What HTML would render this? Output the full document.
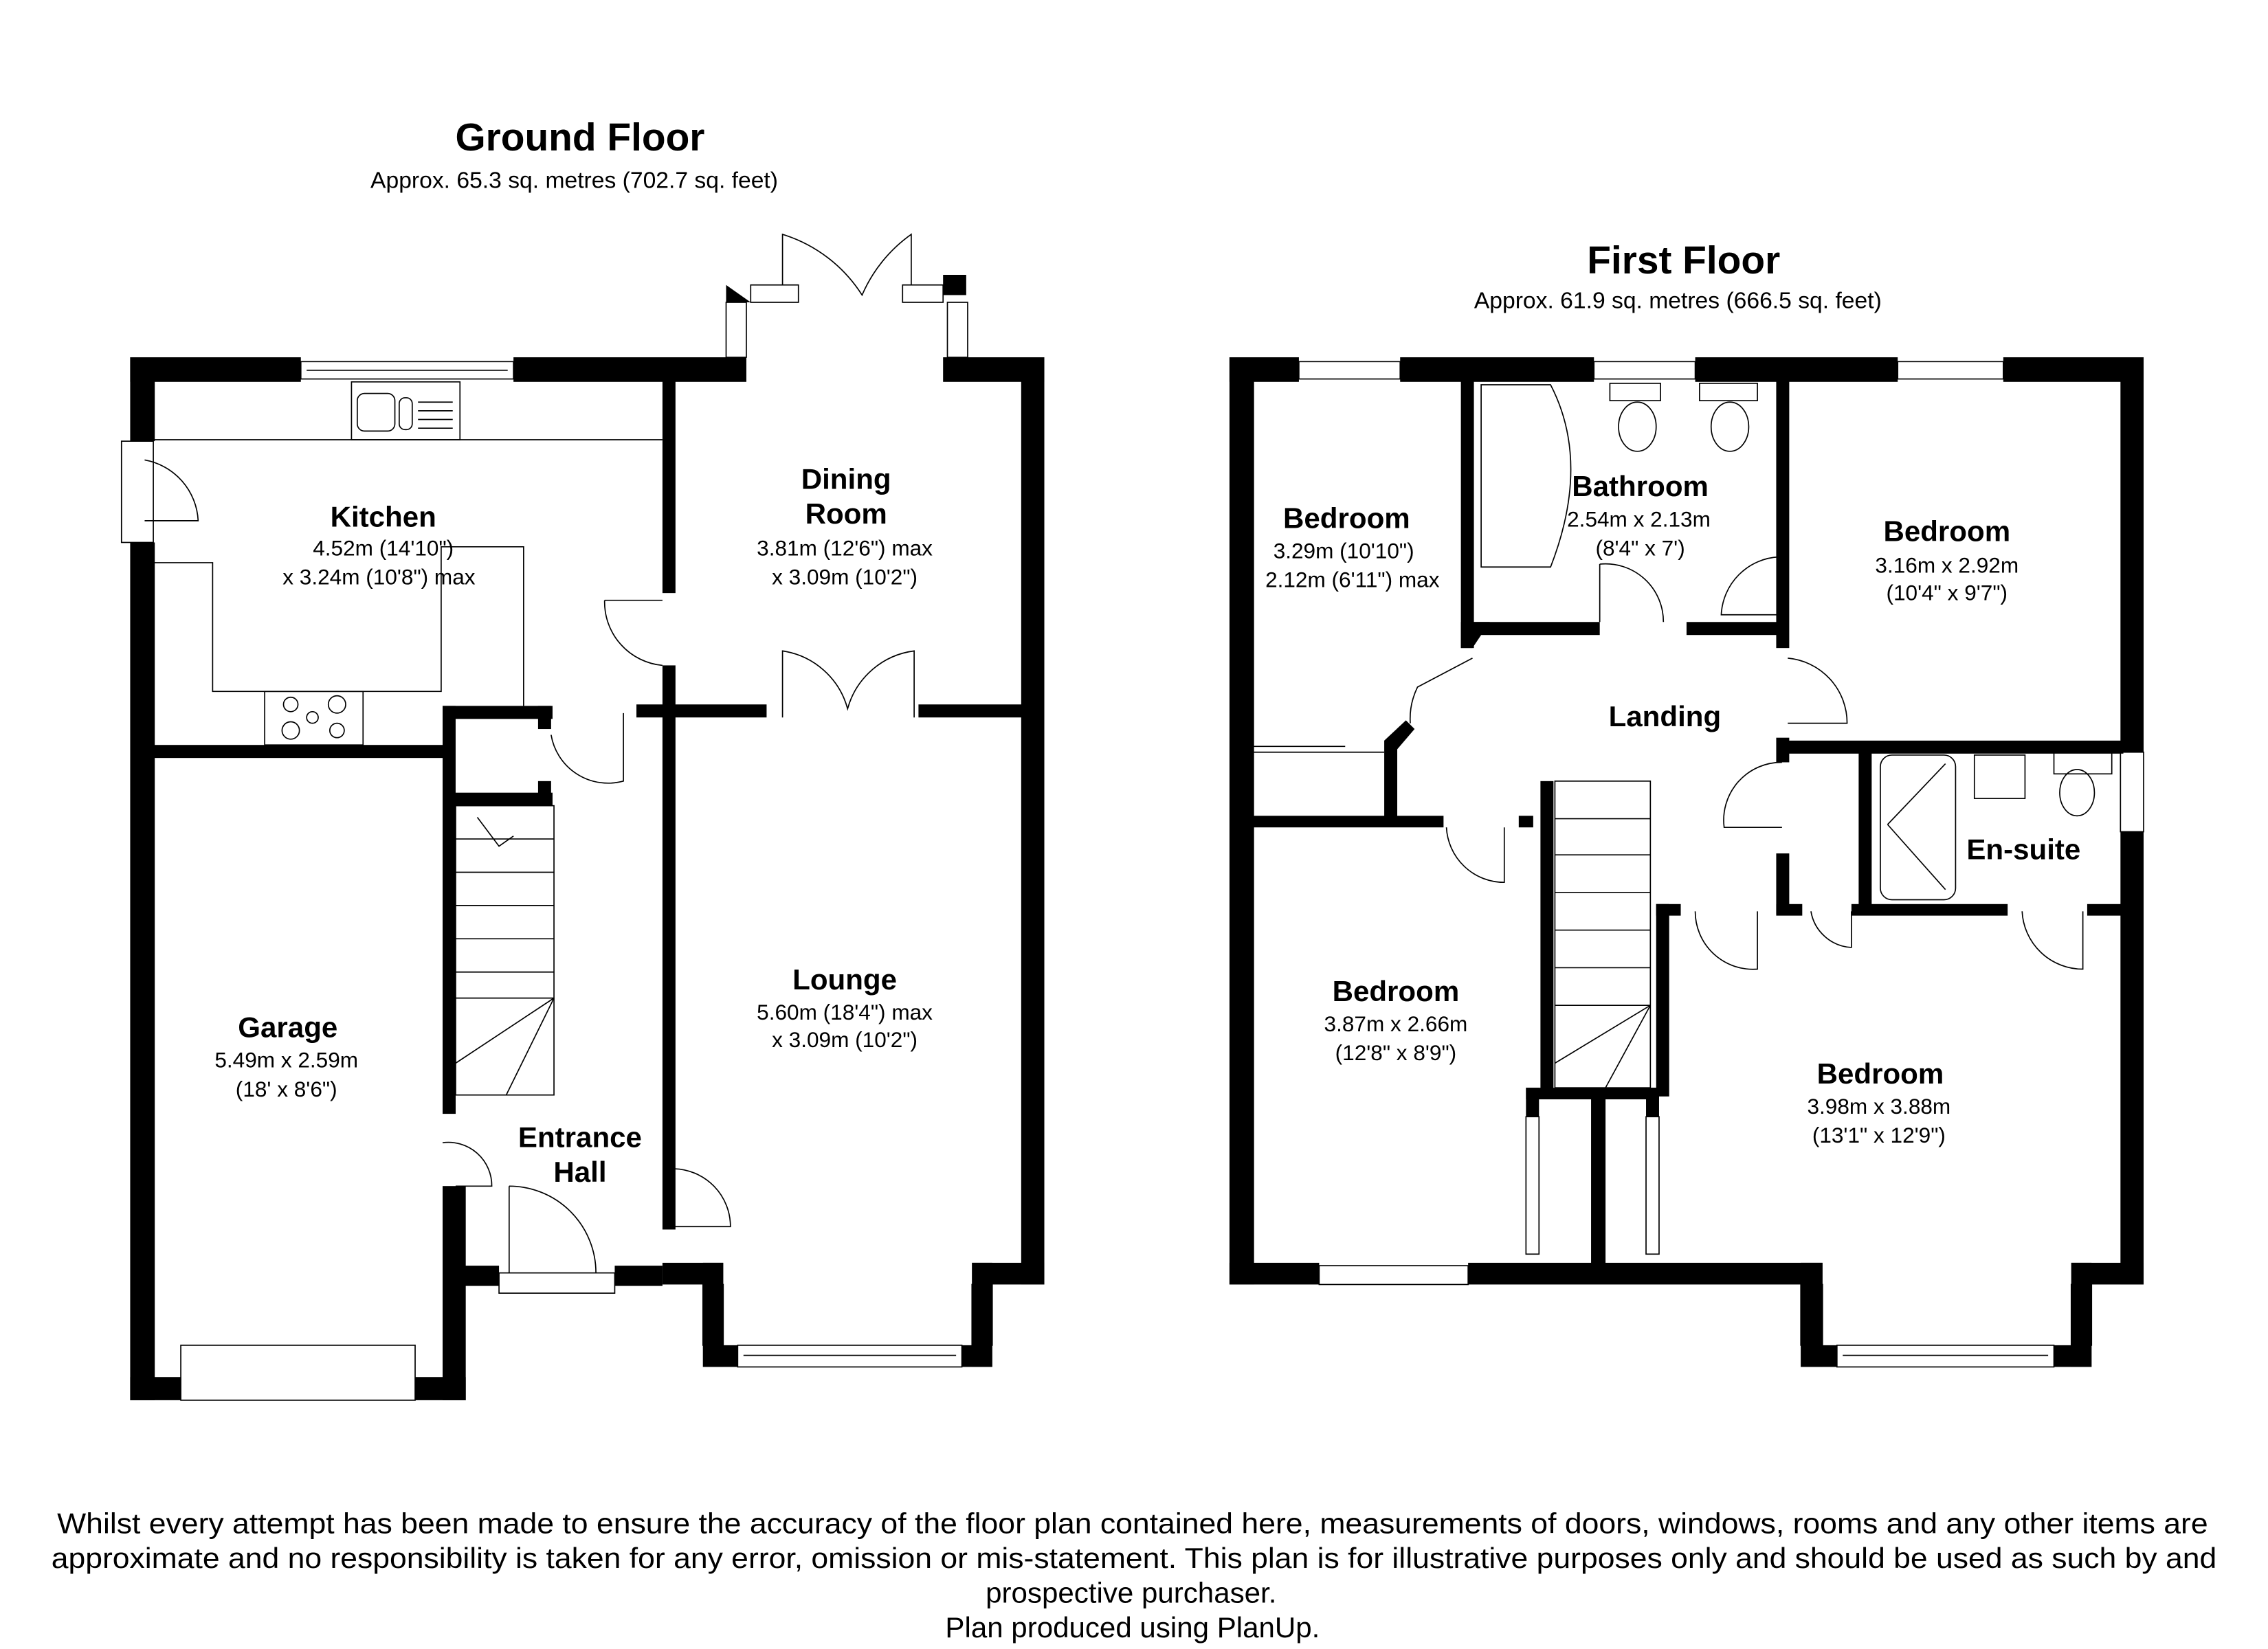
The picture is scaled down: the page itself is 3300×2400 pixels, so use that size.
<!DOCTYPE html>
<html><head><meta charset="utf-8"><style>
html,body{margin:0;padding:0;background:#fff;width:3300px;height:2400px;overflow:hidden}
svg{display:block}
text{font-family:"Liberation Sans",Arial,sans-serif;fill:#000}
.t{font-weight:bold;font-size:20px}
.s{font-size:15px}
</style></head><body>
<svg width="3300" height="2400" viewBox="0 0 1568 1140" preserveAspectRatio="none" xmlns="http://www.w3.org/2000/svg">
<rect width="1568" height="1140" fill="#fff"/>
<text x="401" y="104" text-anchor="middle" font-size="27" font-weight="bold">Ground Floor</text>
<text x="397" y="130" text-anchor="middle" font-size="16">Approx. 65.3 sq. metres (702.7 sq. feet)</text>
<text x="1164" y="189" text-anchor="middle" font-size="27" font-weight="bold">First Floor</text>
<text x="1160" y="213" text-anchor="middle" font-size="16">Approx. 61.9 sq. metres (666.5 sq. feet)</text>

<g fill="#000">
<rect x="90" y="247" width="118" height="17"/>
<rect x="355" y="247" width="161" height="17"/>
<rect x="90" y="247" width="17" height="58"/>
<rect x="90" y="375" width="17" height="593"/>
<rect x="90" y="952" width="35" height="16"/>
<rect x="287" y="952" width="35" height="16"/>
<rect x="306" y="820" width="16" height="148"/>
<rect x="106" y="515" width="200" height="9"/>
<rect x="306" y="488" width="9" height="282"/>
<rect x="306" y="488" width="76" height="9"/>
<rect x="372" y="488" width="9" height="16"/>
<rect x="306" y="548" width="76" height="9"/>
<rect x="372" y="540" width="9" height="17"/>
<rect x="458" y="263" width="9" height="147"/>
<rect x="458" y="460" width="9" height="390"/>
<rect x="440" y="487" width="90" height="9"/>
<rect x="635" y="487" width="72" height="9"/>
<rect x="652" y="247" width="70" height="17"/>
<rect x="706" y="247" width="16" height="641"/>
<rect x="672" y="873" width="50" height="15"/>
<rect x="672" y="873" width="14" height="72"/>
<rect x="486" y="930" width="24" height="15"/>
<rect x="665" y="930" width="21" height="15"/>
<rect x="458" y="873" width="42" height="15"/>
<rect x="486" y="873" width="14" height="72"/>
<rect x="314" y="875" width="31" height="14"/>
<rect x="425" y="875" width="33" height="14"/>
<rect x="306" y="755" width="9" height="15"/>
<rect x="306" y="820" width="9" height="55"/>
<rect x="652" y="190" width="16" height="14"/>
<polygon points="502,197 502,209 519,209"/>

<rect x="850" y="247" width="48" height="17"/>
<rect x="968" y="247" width="134" height="17"/>
<rect x="1172" y="247" width="140" height="17"/>
<rect x="1385" y="247" width="97" height="17"/>
<rect x="850" y="247" width="17" height="641"/>
<rect x="1466" y="247" width="16" height="273"/>
<rect x="1466" y="575" width="16" height="313"/>
<rect x="850" y="873" width="62" height="15"/>
<rect x="1015" y="873" width="245" height="15"/>
<rect x="1245" y="873" width="15" height="72"/>
<rect x="1245" y="930" width="25" height="15"/>
<rect x="1420" y="930" width="26" height="15"/>
<rect x="1432" y="873" width="14" height="72"/>
<rect x="1432" y="873" width="50" height="15"/>
<rect x="1010" y="263" width="9" height="185"/>
<polygon points="1010,430 1030,430 1018,448 1010,448"/>
<rect x="1018" y="430" width="88" height="9"/>
<rect x="1166" y="430" width="70" height="9"/>
<rect x="1228" y="263" width="9" height="185"/>
<rect x="1236" y="512" width="232" height="9"/>
<rect x="1228" y="510" width="9" height="17"/>
<rect x="1285" y="520" width="9" height="112"/>
<rect x="1228" y="590" width="9" height="42"/>
<rect x="1228" y="625" width="18" height="8"/>
<rect x="1280" y="625" width="108" height="8"/>
<rect x="1443" y="625" width="25" height="8"/>
<rect x="1145" y="625" width="17" height="8"/>
<rect x="1145" y="625" width="9" height="133"/>
<rect x="866" y="564" width="132" height="8"/>
<rect x="1050" y="564" width="10" height="8"/>
<rect x="957" y="512" width="9" height="56"/>
<polygon points="957,512 972,498 978,504 966,518"/>
<rect x="1065" y="540" width="9" height="220"/>
<rect x="1055" y="752" width="92" height="8"/>
<rect x="1055" y="752" width="9" height="20"/>
<rect x="1138" y="752" width="9" height="20"/>
<rect x="1100" y="752" width="10" height="123"/>
</g>

<g fill="none" stroke="#000" stroke-width="0.8">
<rect x="208" y="250" width="147" height="12"/><line x1="212" y1="256" x2="351" y2="256"/>
<rect x="125" y="930" width="162" height="38"/>
<rect x="510" y="930" width="155" height="15"/><line x1="514" y1="937" x2="661" y2="937"/>
<rect x="486" y="888" width="14" height="42"/><rect x="672" y="888" width="14" height="42"/>
<rect x="345" y="880" width="80" height="14"/>
<rect x="502" y="209" width="14" height="38"/><rect x="655" y="209" width="14" height="38"/>
<rect x="519" y="197" width="33" height="12"/><rect x="624" y="197" width="28" height="12"/>
<path d="M541 197 V162 A100 100 0 0 1 596 204 A100 100 0 0 1 630 162 V197"/>
<path d="M541 496 V450 A55 55 0 0 1 586 490 A55 55 0 0 1 632 450 V496"/>
<rect x="84" y="305" width="22" height="70"/>
<path d="M100 318 A45 45 0 0 1 137 360 H100"/>
<line x1="106" y1="304" x2="458" y2="304"/>
<rect x="243" y="264" width="75" height="40"/>
<rect x="247" y="272" width="26" height="26" rx="5"/><rect x="276" y="275" width="9" height="22" rx="4"/>
<line x1="289" y1="278" x2="313" y2="278"/><line x1="289" y1="284" x2="313" y2="284"/><line x1="289" y1="290" x2="313" y2="290"/><line x1="289" y1="296" x2="313" y2="296"/>
<polyline points="106,389 147,389 147,478 305,478 305,378 362,378 362,488"/>
<rect x="183" y="478" width="68" height="37"/>
<circle cx="201" cy="487" r="5"/><circle cx="233" cy="487" r="6"/><circle cx="201" cy="505" r="6"/><circle cx="233" cy="505" r="5"/><circle cx="216" cy="496" r="4"/>
<path d="M418 415 A44 44 0 0 0 458 460"/><line x1="418" y1="415" x2="458" y2="415"/>
<path d="M381 508 A40 40 0 0 0 431 540 V493"/>
<path d="M306 790 A30 30 0 0 1 340 820 H315"/>
<path d="M466 808 A40 40 0 0 1 505 848 H466"/>
<path d="M352 820 V880 M352 820 A60 60 0 0 1 412 880"/>
<rect x="315" y="557" width="68" height="200"/>
<line x1="315" y1="580" x2="383" y2="580"/><line x1="315" y1="603" x2="383" y2="603"/><line x1="315" y1="626" x2="383" y2="626"/><line x1="315" y1="649" x2="383" y2="649"/><line x1="315" y1="672" x2="383" y2="672"/><line x1="315" y1="690" x2="383" y2="690"/>
<line x1="383" y1="690" x2="315" y2="735"/><line x1="383" y1="690" x2="350" y2="757"/>
<polyline points="330,565 345,585 355,578"/>
<rect x="898" y="250" width="70" height="12"/><rect x="1102" y="250" width="70" height="12"/><rect x="1312" y="250" width="73" height="12"/>
<rect x="1466" y="520" width="16" height="55"/>
<rect x="912" y="875" width="103" height="13"/>
<rect x="1270" y="930" width="150" height="15"/><line x1="1274" y1="937" x2="1416" y2="937"/>
<rect x="1245" y="888" width="15" height="42"/><rect x="1432" y="888" width="14" height="42"/>
<path d="M1024 266 H1072 Q1100 320 1072 392 H1024 Z"/>
<rect x="1113" y="265" width="35" height="12"/><ellipse cx="1132" cy="295" rx="13" ry="17"/>
<rect x="1175" y="265" width="40" height="12"/><ellipse cx="1196" cy="295" rx="13" ry="17"/>
<path d="M1230 425 V385 A42 42 0 0 0 1190 425 Z"/>
<path d="M1106 390 A40 40 0 0 1 1150 430 M1106 390 V430"/>
<path d="M1018 455 L980 475 A50 50 0 0 0 975 500"/>
<path d="M1236 455 A45 45 0 0 1 1277 500 H1236"/>
<path d="M1232 527 A40 40 0 0 0 1192 572 H1232"/>
<path d="M1000 572 A40 40 0 0 0 1040 610 V572"/>
<path d="M1172 630 A40 40 0 0 0 1215 670 V630"/>
<path d="M1252 630 A30 30 0 0 0 1280 655 V630"/>
<path d="M1398 630 A42 42 0 0 0 1440 670 V630"/>
<line x1="866" y1="520" x2="957" y2="520"/><line x1="866" y1="516" x2="930" y2="516"/>
<rect x="1300" y="522" width="52" height="100" rx="8"/>
<line x1="1305" y1="570" x2="1345" y2="528"/><line x1="1305" y1="570" x2="1345" y2="615"/>
<rect x="1365" y="522" width="35" height="30"/><rect x="1420" y="520" width="40" height="15"/><ellipse cx="1436" cy="548" rx="12" ry="16"/>
<rect x="1075" y="540" width="66" height="212"/>
<line x1="1075" y1="566" x2="1141" y2="566"/><line x1="1075" y1="591" x2="1141" y2="591"/><line x1="1075" y1="617" x2="1141" y2="617"/><line x1="1075" y1="643" x2="1141" y2="643"/><line x1="1075" y1="669" x2="1141" y2="669"/><line x1="1075" y1="695" x2="1141" y2="695"/>
<line x1="1141" y1="695" x2="1075" y2="735"/><line x1="1141" y1="695" x2="1110" y2="752"/>
<rect x="1055" y="772" width="9" height="95"/><rect x="1138" y="772" width="9" height="95"/>
</g>

<text class="t" x="265" y="364" text-anchor="middle">Kitchen</text>
<text class="s" x="265" y="384" text-anchor="middle">4.52m (14'10")</text>
<text class="s" x="262" y="404" text-anchor="middle">x 3.24m (10'8") max</text>
<text class="t" x="585" y="338" text-anchor="middle">Dining</text>
<text class="t" x="585" y="362" text-anchor="middle">Room</text>
<text class="s" x="584" y="384" text-anchor="middle">3.81m (12'6") max</text>
<text class="s" x="584" y="404" text-anchor="middle">x 3.09m (10'2")</text>
<text class="t" x="584" y="684" text-anchor="middle">Lounge</text>
<text class="s" x="584" y="705" text-anchor="middle">5.60m (18'4") max</text>
<text class="s" x="584" y="724" text-anchor="middle">x 3.09m (10'2")</text>
<text class="t" x="199" y="717" text-anchor="middle">Garage</text>
<text class="s" x="198" y="738" text-anchor="middle">5.49m x 2.59m</text>
<text class="s" x="198" y="758" text-anchor="middle">(18' x 8'6")</text>
<text class="t" x="401" y="793" text-anchor="middle">Entrance</text>
<text class="t" x="401" y="817" text-anchor="middle">Hall</text>
<text class="t" x="931" y="365" text-anchor="middle">Bedroom</text>
<text class="s" x="929" y="386" text-anchor="middle">3.29m (10'10")</text>
<text class="s" x="935" y="406" text-anchor="middle">2.12m (6'11") max</text>
<text class="t" x="1134" y="343" text-anchor="middle">Bathroom</text>
<text class="s" x="1133" y="364" text-anchor="middle">2.54m x 2.13m</text>
<text class="s" x="1134" y="384" text-anchor="middle">(8'4" x 7')</text>
<text class="t" x="1346" y="374" text-anchor="middle">Bedroom</text>
<text class="s" x="1346" y="396" text-anchor="middle">3.16m x 2.92m</text>
<text class="s" x="1346" y="415" text-anchor="middle">(10'4" x 9'7")</text>
<text class="t" x="1151" y="502" text-anchor="middle">Landing</text>
<text class="t" x="1399" y="594" text-anchor="middle">En-suite</text>
<text class="t" x="965" y="692" text-anchor="middle">Bedroom</text>
<text class="s" x="965" y="713" text-anchor="middle">3.87m x 2.66m</text>
<text class="s" x="965" y="733" text-anchor="middle">(12'8" x 8'9")</text>
<text class="t" x="1300" y="749" text-anchor="middle">Bedroom</text>
<text class="s" x="1299" y="770" text-anchor="middle">3.98m x 3.88m</text>
<text class="s" x="1299" y="790" text-anchor="middle">(13'1" x 12'9")</text>

<g font-size="20" text-anchor="middle">
<text x="783" y="1060" textLength="1487" lengthAdjust="spacingAndGlyphs">Whilst every attempt has been made to ensure the accuracy of the floor plan contained here, measurements of doors, windows, rooms and any other items are</text>
<text x="784" y="1084" textLength="1497" lengthAdjust="spacingAndGlyphs">approximate and no responsibility is taken for any error, omission or mis-statement. This plan is for illustrative purposes only and should be used as such by and</text>
<text x="782" y="1108">prospective purchaser.</text>
<text x="783" y="1132">Plan produced using PlanUp.</text>
</g>
</svg>
</body></html>
